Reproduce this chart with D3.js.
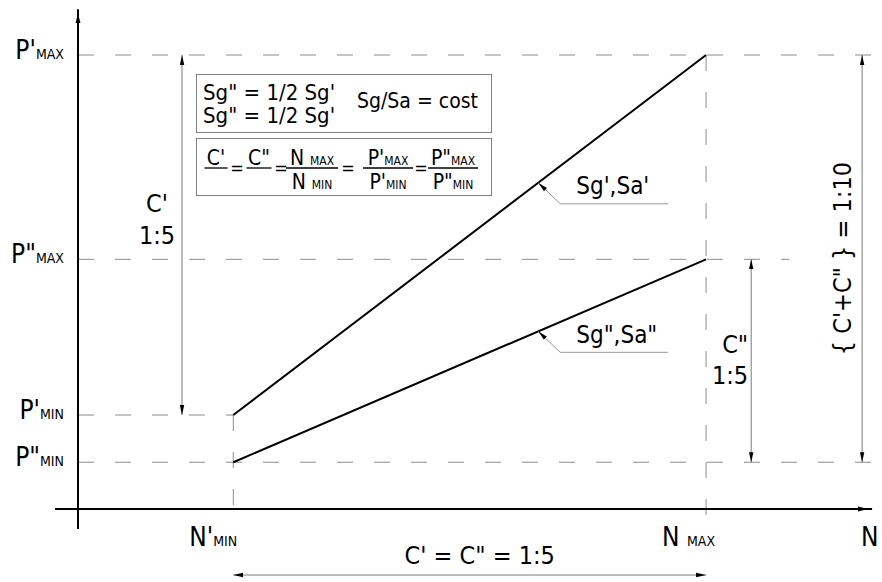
<!DOCTYPE html>
<html>
<head>
<meta charset="utf-8">
<script src="https://cdn.jsdelivr.net/npm/d3@7/dist/d3.min.js"></script>
<style>
  body { margin: 0; background: #fff; }
  svg { display: block; }
  text { font-family: "DejaVu Sans Condensed", "DejaVu Sans", sans-serif; fill: #000; }
</style>
</head>
<body>
<div id="chart"></div>
<script>
// levels on the P axis (names, subscripts, values)
const pNames = ["P'", 'P"', "P'", 'P"'];
const pSubs = ["MAX", "MAX", "MIN", "MIN"];
const pValues = [100, 55, 20.7, 10.3];

// levels on the N axis
const nNames = ["N'", "N "];
const nSubs = ["MIN", "MAX"];
const nValues = [20.3, 82.1];

// the two lines: [N, P]
const upperLine = [[20.3, 20.7], [82.1, 100]];
const lowerLine = [[20.3, 10.3], [82.1, 55]];
const lineLabels = ["Sg',Sa'", 'Sg",Sa"'];

// texts
const boxLines = ['Sg" = 1/2 Sg\'', 'Sg" = 1/2 Sg\''];
const boxRight = "Sg/Sa = cost";
const ratioLeft = ["C'", "1:5"];
const ratioRight = ['C"', "1:5"];
const ratioTotal = '{ C\'+C" } = 1:10';
const ratioBottom = 'C\' = C" = 1:5';

const width = 882, height = 582;

const svg = d3.select("#chart")
    .append("svg")
    .attr("width", width)
    .attr("height", height);

const x = d3.scaleLinear().domain([0, 100]).range([78, 843]);
const y = d3.scaleLinear().domain([0, 100]).range([509, 55]);

// arrow heads
const defs = svg.append("defs");
defs.append("marker")
    .attr("id", "arr")
    .attr("markerUnits", "userSpaceOnUse")
    .attr("viewBox", "0 -3 10 6")
    .attr("markerWidth", 10).attr("markerHeight", 6)
    .attr("refX", 10).attr("refY", 0)
    .attr("orient", "auto-start-reverse")
    .append("path").attr("d", "M0,-2.2L10,0L0,2.2Z").attr("fill", "#000");
defs.append("marker")
    .attr("id", "axarr")
    .attr("markerUnits", "userSpaceOnUse")
    .attr("viewBox", "0 -3 10 6")
    .attr("markerWidth", 10).attr("markerHeight", 6)
    .attr("refX", 14).attr("refY", 0)
    .attr("orient", "auto")
    .append("path").attr("d", "M0,-2.5L10,0L0,2.5Z").attr("fill", "#000");

const dash = "16,21";
const grey = "#8c8c8c";

// horizontal dashed guides
const hEnds = [104, 93, nValues[0], 104];
svg.selectAll(".hguide")
    .data(pValues)
    .enter().append("line")
    .attr("class", "hguide")
    .attr("x1", x(0)).attr("x2", (d, i) => x(hEnds[i]))
    .attr("y1", d => y(d)).attr("y2", d => y(d))
    .attr("stroke", grey).attr("stroke-width", 1)
    .attr("stroke-dasharray", dash);

// vertical dashed guides
const vTops = [pValues[2], pValues[0]];
svg.selectAll(".vguide")
    .data(nValues)
    .enter().append("line")
    .attr("class", "vguide")
    .attr("x1", d => x(d)).attr("x2", d => x(d))
    .attr("y1", (d, i) => y(vTops[i])).attr("y2", y(-2.5))
    .attr("stroke", grey).attr("stroke-width", 1)
    .attr("stroke-dasharray", dash);

// axes
svg.append("line")
    .attr("x1", x(-3)).attr("x2", x(103.8))
    .attr("y1", y(0)).attr("y2", y(0))
    .attr("stroke", "#000").attr("stroke-width", 2)
    .attr("marker-end", "url(#axarr)");
svg.append("line")
    .attr("x1", x(0)).attr("x2", x(0))
    .attr("y1", y(-4.4)).attr("y2", y(110.1))
    .attr("stroke", "#000").attr("stroke-width", 2)
    .attr("marker-end", "url(#axarr)");

// the two lines
const line = d3.line().x(d => x(d[0])).y(d => y(d[1]));
[upperLine, lowerLine].forEach(s => {
    svg.append("path")
        .datum(s)
        .attr("fill", "none")
        .attr("stroke", "#000")
        .attr("stroke-width", 2)
        .attr("d", line);
});

// labels with small-caps subscripts
function subLabel(g, xPos, yPos, name, sub, anchor, big, small) {
    const t = g.append("text")
        .attr("x", xPos).attr("y", yPos)
        .attr("text-anchor", anchor);
    t.append("tspan").attr("font-size", big).text(name);
    t.append("tspan").attr("font-size", small).text(sub);
    return t;
}

pValues.forEach((v, i) => {
    subLabel(svg, 64, y(v) + 4, pNames[i], pSubs[i], "end", 26, 14);
});
nValues.forEach((v, i) => {
    subLabel(svg, x(v) - 44, 546, nNames[i], nSubs[i], "start", 26, 14);
});
svg.append("text")
    .attr("x", 861).attr("y", 546)
    .attr("font-size", 26)
    .text("N");

// dimension lines
function dim(x1, y1, x2, y2) {
    svg.append("line")
        .attr("x1", x1).attr("y1", y1).attr("x2", x2).attr("y2", y2)
        .attr("stroke", "#7a7a7a").attr("stroke-width", 1)
        .attr("marker-start", "url(#arr)")
        .attr("marker-end", "url(#arr)");
}
const xLeftDim = x(13.6), xMidDim = x(88), xRightDim = x(102.5);
dim(xLeftDim, y(pValues[0]), xLeftDim, y(pValues[2]));
dim(xMidDim, y(pValues[1]), xMidDim, y(pValues[3]));
dim(xRightDim, y(pValues[0]), xRightDim, y(pValues[3]));
dim(x(nValues[0]), 575, x(nValues[1]), 575);

ratioLeft.forEach((t, i) => {
    svg.append("text")
        .attr("x", xLeftDim - 25).attr("y", 203 + i * 32)
        .attr("dy", "0.35em")
        .attr("text-anchor", "middle")
        .attr("font-size", 25)
        .text(t);
});
ratioRight.forEach((t, i) => {
    svg.append("text")
        .attr("x", xMidDim - 3).attr("y", 344 + i * 31)
        .attr("dy", "0.35em")
        .attr("text-anchor", "end")
        .attr("font-size", 25)
        .text(t);
});
svg.append("text")
    .attr("transform", `translate(${xRightDim - 20},${(y(pValues[0]) + y(pValues[3])) / 2}) rotate(-90)`)
    .attr("dy", "0.35em")
    .attr("text-anchor", "middle")
    .attr("font-size", 25)
    .text(ratioTotal);
svg.append("text")
    .attr("x", (x(nValues[0]) + x(nValues[1])) / 2 + 10).attr("y", 555)
    .attr("dy", "0.35em")
    .attr("text-anchor", "middle")
    .attr("font-size", 25)
    .text(ratioBottom);

// leader labels on the lines
[upperLine, lowerLine].forEach((s, i) => {
    const t = 0.645;
    const tx = x(s[0][0] + (s[1][0] - s[0][0]) * t);
    const ty = y(s[0][1] + (s[1][1] - s[0][1]) * t);
    const ex = tx + 22, ey = ty + 21;
    svg.append("path")
        .attr("d", `M${ex + 108},${ey}L${ex},${ey}L${tx},${ty}`)
        .attr("fill", "none")
        .attr("stroke", "#9a9a9a").attr("stroke-width", 1)
        .attr("marker-end", "url(#arr)");
    svg.append("text")
        .attr("x", ex + 16).attr("y", ey - 18)
        .attr("dy", "0.35em")
        .attr("font-size", 24)
        .text(lineLabels[i]);
});

// formula boxes
const box = svg.append("g");
box.append("rect")
    .attr("x", 196.5).attr("y", 74.5).attr("width", 295).attr("height", 58)
    .attr("fill", "#fff").attr("stroke", "#808080");
box.append("rect")
    .attr("x", 196.5).attr("y", 138.5).attr("width", 295).attr("height", 57)
    .attr("fill", "#fff").attr("stroke", "#808080");
boxLines.forEach((t, i) => {
    box.append("text")
        .attr("x", 203).attr("y", 92 + i * 23)
        .attr("dy", "0.35em")
        .attr("font-size", 22)
        .text(t);
});
box.append("text")
    .attr("x", 357).attr("y", 101)
    .attr("dy", "0.35em")
    .attr("font-size", 21)
    .text(boxRight);

// fractions
const fracs = [
    {cx: 216, w: 23, num: ["C'", ""], den: null},
    {cx: 259, w: 25, num: ['C"', ""], den: null},
    {cx: 312, w: 52, num: ["N ", "MAX"], den: ["N ", "MIN"]},
    {cx: 388, w: 50, num: ["P'", "MAX"], den: ["P'", "MIN"]},
    {cx: 453, w: 50, num: ['P"', "MAX"], den: ['P"', "MIN"]}
];
const eqs = [237, 281, 348, 421];
fracs.forEach(f => {
    box.append("line")
        .attr("x1", f.cx - f.w / 2).attr("x2", f.cx + f.w / 2)
        .attr("y1", 168).attr("y2", 168)
        .attr("stroke", "#000").attr("stroke-width", 1.3);
    subLabel(box, f.cx, 165, f.num[0], f.num[1], "middle", 21, 12);
    if (f.den) subLabel(box, f.cx, 189, f.den[0], f.den[1], "middle", 21, 12);
});
eqs.forEach(e => {
    box.append("text")
        .attr("x", e).attr("y", 174)
        .attr("text-anchor", "middle")
        .attr("font-size", 18)
        .text("=");
});
</script>
</body>
</html>
